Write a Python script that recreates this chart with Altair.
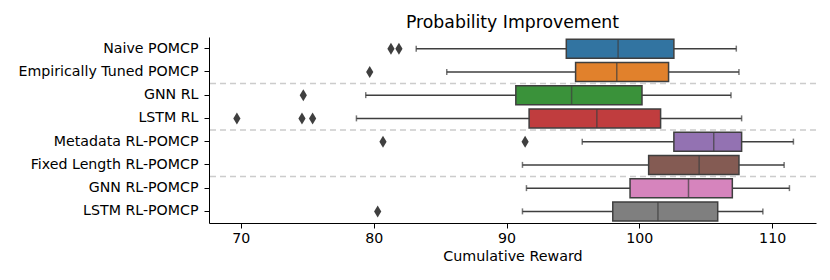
import altair as alt
import pandas as pd

categories = ["Naive POMCP", "Empirically Tuned POMCP", "GNN RL", "LSTM RL",
              "Metadata RL-POMCP", "Fixed Length RL-POMCP", "GNN RL-POMCP", "LSTM RL-POMCP"]
colors = ["#3274a1", "#e1812c", "#3a923a", "#c03d3e", "#9372b2", "#845b53", "#d684bd", "#7f7f7f"]
whisker_lo = [83.2, 85.5, 79.4, 78.7, 95.7, 91.2, 91.5, 91.2]
q1 = [94.5, 95.2, 90.7, 91.7, 102.6, 100.7, 99.3, 98.0]
median = [98.4, 98.3, 94.9, 96.8, 105.6, 104.5, 103.7, 101.4]
q3 = [102.6, 102.2, 100.2, 101.6, 107.7, 107.5, 107.0, 105.9]
whisker_hi = [107.3, 107.5, 106.9, 107.7, 111.6, 110.9, 111.3, 109.3]
outlier_cat = ["Naive POMCP", "Naive POMCP", "Empirically Tuned POMCP", "GNN RL",
               "LSTM RL", "LSTM RL", "LSTM RL", "Metadata RL-POMCP", "Metadata RL-POMCP",
               "LSTM RL-POMCP"]
outlier_val = [81.3, 81.9, 79.7, 74.7, 69.7, 74.6, 75.4, 80.7, 91.4, 80.3]
separators_after = ["Empirically Tuned POMCP", "LSTM RL", "Fixed Length RL-POMCP"]

stats = pd.DataFrame({"cat": categories, "lo": whisker_lo, "q1": q1, "med": median,
                      "q3": q3, "hi": whisker_hi})
outl = pd.DataFrame({"cat": outlier_cat, "val": outlier_val})
seps = pd.DataFrame({"cat": separators_after})

EDGE = "#3f3f3f"
yscale = alt.Scale(domain=categories, paddingInner=0, paddingOuter=0)
xscale = alt.Scale(domain=[67.6, 113.3], nice=False, zero=False)
xaxis = alt.Axis(values=[70, 80, 90, 100, 110], format="d", grid=False,
                 title="Cumulative Reward", labelPadding=3, titlePadding=4)
Y = alt.Y("cat:N", scale=yscale, title=None, axis=alt.Axis(labelPadding=6))

sep = alt.Chart(seps).mark_rule(color="#cccccc", strokeWidth=1.5, strokeDash=[6, 4]).encode(
    y=alt.Y("cat:N", scale=yscale, title=None, bandPosition=1))

whisk = alt.Chart(stats).mark_rule(color=EDGE, strokeWidth=1.5).encode(
    x=alt.X("lo:Q", scale=xscale, axis=xaxis), x2="hi:Q", y=Y)

caps_lo = alt.Chart(stats).mark_tick(color=EDGE, orient="vertical", size=6, thickness=1.5).encode(
    x=alt.X("lo:Q", scale=xscale, axis=xaxis), y=Y)
caps_hi = alt.Chart(stats).mark_tick(color=EDGE, orient="vertical", size=6, thickness=1.5).encode(
    x=alt.X("hi:Q", scale=xscale, axis=xaxis), y=Y)

box = alt.Chart(stats).mark_bar(size=19, stroke=EDGE, strokeWidth=1.5).encode(
    x=alt.X("q1:Q", scale=xscale, axis=xaxis), x2="q3:Q", y=Y,
    color=alt.Color("cat:N", scale=alt.Scale(domain=categories, range=colors), legend=None))

med = alt.Chart(stats).mark_tick(color=EDGE, orient="vertical", size=19, thickness=1.5).encode(
    x=alt.X("med:Q", scale=xscale, axis=xaxis), y=Y)

pts = alt.Chart(outl).mark_point(shape="M0,-1L0.6,0L0,1L-0.6,0Z", filled=True, size=144,
                                 color=EDGE, opacity=1).encode(
    x=alt.X("val:Q", scale=xscale, axis=xaxis), y=Y)

chart = alt.layer(sep, whisk, caps_lo, caps_hi, box, med, pts).properties(
    width=607, height=186,
    title=alt.TitleParams("Probability Improvement", fontSize=17.3, fontWeight="normal",
                          font="DejaVu Sans", color="black", offset=6),
    padding={"left": 10, "top": 5, "right": 5, "bottom": 5},
).configure_view(stroke=None).configure_axis(
    labelFont="DejaVu Sans", labelFontSize=14.2, labelColor="black",
    titleFont="DejaVu Sans", titleFontSize=14.3, titleFontWeight="normal", titleColor="black",
    tickColor="black", domainColor="black", tickSize=5, domainWidth=1,
)

chart.save("out.html", embed_options={"renderer": "svg", "actions": False})
